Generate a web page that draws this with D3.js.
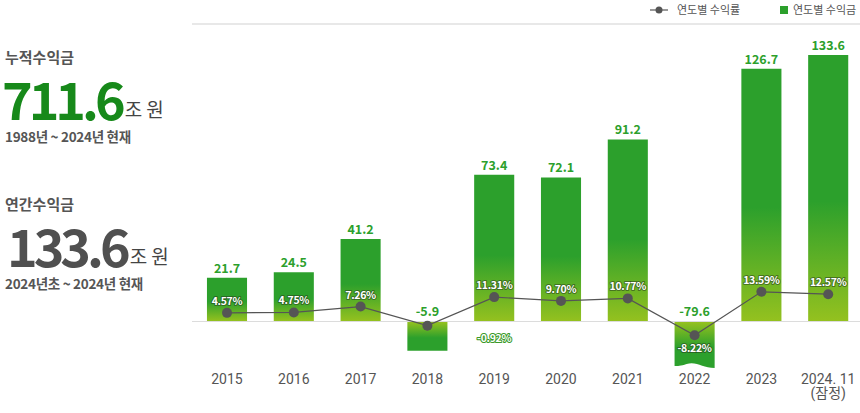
<!DOCTYPE html>
<html>
<head>
<meta charset="utf-8">
<script src="https://cdn.jsdelivr.net/npm/d3@7"></script>
<style>
  body { margin: 0; background: #fff; }
  svg { display: block; font-family: "Noto Sans CJK KR", "Noto Sans", sans-serif; }
</style>
</head>
<body>
<svg id="svg" width="860" height="413"></svg>
<script>
// yearly data
const years = ["2015", "2016", "2017", "2018", "2019", "2020", "2021", "2022", "2023", "2024"];
const yearLabels = [["2015"], ["2016"], ["2017"], ["2018"], ["2019"], ["2020"], ["2021"], ["2022"], ["2023"], ["2024. 11", "(잠정)"]];
const profits = [21.7, 24.5, 41.2, -5.9, 73.4, 72.1, 91.2, -79.6, 126.7, 133.6];   // 조 원
const returns = [4.57, 4.75, 7.26, -0.92, 11.31, 9.70, 10.77, -8.22, 13.59, 12.57]; // %

const summary = [
  { title: "누적수익금", value: "711.6", unit: "조 원", note: "1988년 ~ 2024년 현재" },
  { title: "연간수익금", value: "133.6", unit: "조 원", note: "2024년초 ~ 2024년 현재" }
];

const svg = d3.select("svg");
const green = "#2ca02c", lime = "#94c11f";

// left summary block
const sumColors = ["#17891a", "#505050"];
const sumTop = [63, 210];
const sumX = [2, 7];
summary.forEach(function(s, i) {
  const g = svg.append("g").attr("transform", "translate(0," + sumTop[i] + ")");
  g.append("text").attr("x", 5).attr("y", 0)
    .attr("font-size", 15).attr("font-weight", 700).attr("fill", "#555").text(s.title);
  const big = g.append("text").attr("x", sumX[i]).attr("y", 57)
    .attr("font-size", 52).attr("font-weight", 700).attr("letter-spacing", -4)
    .attr("fill", sumColors[i]).text(s.value);
  const w = big.node().getComputedTextLength();
  g.append("text").attr("x", sumX[i] + w + 3).attr("y", 54)
    .attr("font-size", 19).attr("fill", "#444").text(s.unit);
  g.append("text").attr("x", 5).attr("y", 79)
    .attr("font-size", 13.5).attr("font-weight", 700).attr("letter-spacing", -0.3)
    .attr("fill", "#555").text(s.note);
});

// gradients
const defs = svg.append("defs");
const gUp = defs.append("linearGradient").attr("id", "gUp").attr("x1", 0).attr("y1", 0).attr("x2", 0).attr("y2", 1);
gUp.append("stop").attr("offset", "0%").attr("stop-color", green);
gUp.append("stop").attr("offset", "55%").attr("stop-color", green);
gUp.append("stop").attr("offset", "100%").attr("stop-color", lime);
const gDn = defs.append("linearGradient").attr("id", "gDn").attr("x1", 0).attr("y1", 0).attr("x2", 0).attr("y2", 1);
gDn.append("stop").attr("offset", "0%").attr("stop-color", lime);
gDn.append("stop").attr("offset", "55%").attr("stop-color", green);
gDn.append("stop").attr("offset", "100%").attr("stop-color", green);

// scales
const x = d3.scaleBand().domain(years).range([193.6, 861.6]).paddingInner(0.4).paddingOuter(0.2);
// negative part is drawn compressed and clamped, like the original
const y = d3.scaleLinear().domain([-9.5, 0, 133.6]).range([369, 321, 55]).clamp(true);
const yr = d3.scaleLinear().domain([-5, 15]).range([335.2, 288.5]).clamp(true);

// top rule
svg.append("line").attr("x1", 192).attr("x2", 860).attr("y1", 24).attr("y2", 24)
  .attr("stroke", "#e8e8e8").attr("stroke-width", 2);

// legend
const lg = svg.append("g").attr("font-size", 11).attr("fill", "#555");
lg.append("line").attr("x1", 650).attr("x2", 668).attr("y1", 10).attr("y2", 10).attr("stroke", "#555").attr("stroke-width", 1.2);
lg.append("circle").attr("cx", 659).attr("cy", 10).attr("r", 3.5).attr("fill", "#555");
lg.append("text").attr("x", 677).attr("y", 14).text("연도별 수익률");
lg.append("rect").attr("x", 780).attr("y", 6).attr("width", 8).attr("height", 8).attr("fill", green);
lg.append("text").attr("x", 793).attr("y", 14).text("연도별 수익금");

// bars
const bars = svg.append("g").selectAll("g").data(years).enter().append("g");
bars.append("path")
  .attr("fill", function(d, i) { return profits[i] >= 0 ? "url(#gUp)" : "url(#gDn)"; })
  .attr("d", function(d, i) {
    const x0 = x(d), x1 = x(d) + x.bandwidth();
    const v = profits[i];
    if (v >= 0) return "M" + x0 + "," + y(v) + "H" + x1 + "V" + y(0) + "H" + x0 + "Z";
    const top = y(0) + 1, bot = y(v);
    if (v > y.domain()[0]) return "M" + x0 + "," + top + "H" + x1 + "V" + bot + "H" + x0 + "Z";
    // clipped bar: wavy bottom edge
    const w = x1 - x0;
    return "M" + x0 + "," + top + "H" + x1 + "V" + (bot - 1) +
      "C" + (x1 - w * 0.3) + "," + (bot - 1) + " " + (x0 + w * 0.55) + "," + (bot - 8) + " " + (x0 + w * 0.3) + "," + (bot - 5) +
      "C" + (x0 + w * 0.15) + "," + (bot - 3) + " " + (x0 + 3) + "," + (bot - 3) + " " + x0 + "," + (bot - 3) + "Z";
  });

bars.append("text")
  .attr("x", function(d) { return x(d) + x.bandwidth() / 2; })
  .attr("y", function(d, i) { return profits[i] >= 0 ? y(profits[i]) - 5 : y(0) - 5; })
  .attr("text-anchor", "middle").attr("font-size", 12.5).attr("font-weight", 700)
  .attr("fill", green)
  .text(function(d, i) { return profits[i].toFixed(1); });

// baseline
svg.append("line").attr("x1", 192).attr("x2", 860).attr("y1", y(0) + 0.5).attr("y2", y(0) + 0.5)
  .attr("stroke", "#dcdcdc").attr("stroke-width", 1);

// return line
const cx = function(d) { return x(d) + x.bandwidth() / 2; };
const line = d3.line().x(function(d) { return cx(d); }).y(function(d, i) { return yr(returns[i]); });
svg.append("path").datum(years).attr("d", line).attr("fill", "none").attr("stroke", "#555").attr("stroke-width", 1.2);
svg.append("g").selectAll("circle").data(years).enter().append("circle")
  .attr("cx", cx).attr("cy", function(d, i) { return yr(returns[i]); })
  .attr("r", 5).attr("fill", "#555");

// return labels (2018 label sits under the 2019 column, as in the original)
svg.append("g").selectAll("text").data(years).enter().append("text")
  .attr("x", function(d, i) { return i == 3 ? cx(years[4]) : cx(d); })
  .attr("y", function(d, i) {
    if (i == 3) return yr(returns[i]) + 16;
    return returns[i] < 0 ? yr(returns[i]) + 17 : yr(returns[i]) - 8;
  })
  .attr("text-anchor", "middle").attr("font-size", 10.5).attr("font-weight", 700)
  .attr("letter-spacing", -0.3)
  .attr("fill", "#fff").attr("stroke", function(d, i) { return i == 3 ? "#3b9a2a" : "rgba(40,60,30,0.55)"; })
  .attr("stroke-width", 2).attr("paint-order", "stroke").attr("stroke-linejoin", "round")
  .text(function(d, i) { return returns[i].toFixed(2) + "%"; });

// x axis labels
const xl = svg.append("g").selectAll("text").data(years).enter().append("text")
  .attr("x", cx).attr("y", 384).attr("text-anchor", "middle")
  .attr("font-family", "Roboto, 'Noto Sans CJK KR', sans-serif")
  .attr("font-size", 14).attr("fill", "#555");
xl.each(function(d, i) {
  const t = d3.select(this);
  yearLabels[i].forEach(function(s, k) {
    t.append("tspan").attr("x", cx(d)).attr("dy", k == 0 ? 0 : 14).text(s);
  });
});
</script>
</body>
</html>
